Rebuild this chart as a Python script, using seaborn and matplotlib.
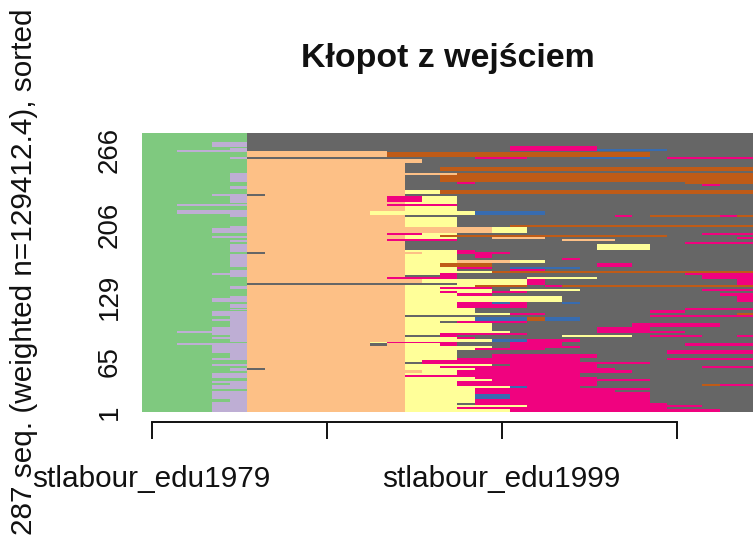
import numpy as np
import matplotlib
matplotlib.use("Agg")
import matplotlib.pyplot as plt
import seaborn as sns

state_codes = ["E", "P", "O", "Y", "B", "M", "R", "D"]
state_colors = ["#7FC97F", "#BEAED4", "#FDC086", "#FFFF99", "#386CB0", "#F0027F", "#BF5B17", "#666666"]

n_cols = 35
edu_cols = 6

# first 6 years: (weight, year where the second state starts), top to bottom
edu_bands = [
    (9, 6), (5, 4), (1, 6), (2, 5), (2, 2), (5, 6), (2, 5), (14, 6), (9, 5), (4, 6), (3, 5), (5, 6),
    (2, 4), (7, 5), (1, 6), (2, 2), (4, 6), (4, 2), (3, 5), (9, 6), (2, 5), (5, 4), (3, 6), (2, 4),
    (2, 6), (2, 5), (2, 6), (8, 5), (2, 6), (13, 5), (3, 6), (3, 5), (2, 4), (2, 5), (9, 6), (3, 5),
    (7, 6), (2, 5), (4, 4), (2, 6), (4, 5), (1, 6), (1, 5), (1, 6), (5, 4), (3, 5), (2, 4), (6, 5),
    (4, 4), (2, 2), (2, 4), (2, 5), (2, 4), (3, 5), (1, 6), (2, 2), (8, 4), (5, 5), (2, 4), (4, 6),
    (2, 4), (2, 6), (3, 5), (2, 6), (5, 4), (3, 6), (2, 4), (2, 5), (4, 4), (2, 6), (8, 4), (3, 5),
    (10, 4),
]

# later years: (weight, runs of state + length), top to bottom
career_upper = [
    (13, "D29"), (3, "D15 M5 D9"), (2, "D15 M5 B4 D5"), (1, "O8 D21"), (5, "O8 R15 D6"),
    (2, "D13 M3 D3 B4 D1 M5"), (4, "O10 D19"), (4, "O9 D20"), (4, "O9 D2 R18"), (2, "O9 D20"),
    (2, "O12 R17"), (7, "O9 D2 R18"), (2, "O9 D3 M1 D12 R4"), (2, "O9 D17 M1 D2"), (3, "O9 D20"),
    (1, "O9 D20"), (4, "O9 Y2 R18"), (2, "D1 O8 D20"), (6, "O8 M2 Y2 D17"), (2, "O9 Y3 D17"),
    (2, "O8 M4 D17"), (5, "O9 Y3 D17"), (4, "O7 Y6 B4 D12"), (2, "O9 D12 M1 D1 R4 M1 R1"),
    (8, "O9 Y3 D17"), (2, "O9 Y3 D3 R14"), (6, "O14 Y2 D13"), (2, "O8 M2 Y2 D14 M3"),
    (2, "O9 Y2 R13 D5"), (2, "O9 Y3 D2 O3 D11 M1"), (2, "O8 M4 D6 O3 D8"), (1, "O9 D20"),
    (2, "O9 D16 M4"), (6, "O9 D11 Y3 D6"), (2, "O9 Y3 M1 D16"), (2, "D1 O9 Y2 M3 D14"),
    (4, "O9 Y3 D1 M1 D15"), (2, "O9 Y3 D6 M1 D10"), (3, "O9 Y3 O3 Y2 D12"),
    (4, "O9 Y2 R3 D6 M2 D7"), (2, "O9 Y3 M2 D1 B4 D10"), (2, "O9 Y3 D3 M2 D12"), (2, "O9 Y5 R15"),
]
career_lower = [
    (2, "O9 Y2 M1 D13 M4"), (2, "O9 D2 M1 D14 M3"), (2, "O8 M4 D4 Y4 D6 M3"), (4, "O10 Y6 M1 D11 M1"),
    (2, "D12 Y4 M1 D11 M1"), (2, "O9 Y4 R3 D1 M1 R11"), (2, "O9 Y2 M3 D15"), (2, "O9 Y5 D1 Y4 D7 M3"),
    (2, "O9 Y2 M1 Y2 M2 D13"), (3, "O9 Y3 M2 D13 M2"), (6, "O9 Y9 D10 M1"),
    (2, "O9 Y3 M2 B1 M1 D2 B1 D10"), (4, "O9 Y3 M4 D13"), (2, "O9 Y4 D12 M4"), (3, "O9 Y4 D10 M2 D4"),
    (2, "O9 Y6 M2 D11 R1"), (2, "O9 D14 M6"), (4, "O9 Y4 B3 R1 B2 D10"), (2, "O9 Y2 D1 M4 D13"),
    (4, "O9 Y5 D8 M5 D2"), (4, "O9 Y5 D6 M3 D6"), (2, "O9 Y6 D5 M5 D4"), (2, "O9 Y2 M5 D13"),
    (2, "O9 D2 M1 D6 Y4 D1 M3 D2 M1"), (2, "O9 Y3 M1 D16"), (3, "O9 Y5 B2 M3 D10"),
    (1, "O7 Y1 M4 D3 M3 D11"), (3, "O7 D1 O1 Y2 M1 D3 M3 D7 M4"), (2, "O9 Y5 D1 M4 D10"),
    (2, "O9 Y4 M4 D12"), (4, "O9 Y3 D12 M5"), (4, "O9 Y3 D2 M6 D9"), (2, "O9 Y3 M7 D5 M5"),
    (2, "O9 Y1 M9 D10"), (2, "O9 D1 M13 D6"), (2, "O9 Y5 D1 M5 D9"), (2, "O9 Y2 M9 D6 M3"),
    (2, "D1 O8 Y4 M8 D8"), (3, "O10 Y2 M10 D7"), (2, "O9 Y3 M7 D10"), (2, "O9 M10 D10"),
    (2, "O9 Y4 M7 D9"), (2, "O9 Y5 M9 D6"), (3, "O9 Y3 M8 D9"), (2, "O9 Y3 M8 D6 R1 M2"),
    (2, "O9 Y6 B1 M3 D10"), (2, "O9 Y4 M10 D6"), (2, "O9 Y4 M8 D8"), (2, "O9 Y4 M10 D6"),
    (5, "O9 Y4 B2 M8 D6"), (4, "O9 Y4 M10 D6"), (2, "O9 Y3 D1 M11 D5"), (2, "O9 Y7 M10 D3"),
    (2, "O9 Y3 M12 D5"), (3, "O9 Y6 M12 D2"),
]

xtick_cols = [0, 10, 20, 30]
xtick_labels = ["stlabour_edu1979", "", "stlabour_edu1999", ""]
ytick_labels = ["1", "65", "129", "206", "266"]
ytick_weights = [0, 50, 115, 187, 262]


def expand_runs(runs):
    row = []
    for run in runs.split():
        row += [state_codes.index(run[0])] * int(run[1:])
    return row


left_rows = []
for weight, start in edu_bands:
    left_rows += [[0] * start + [1] * (edu_cols - start)] * weight

right_rows = []
for weight, runs in career_upper + career_lower:
    right_rows += [expand_runs(runs)] * weight

n_rows = min(len(left_rows), len(right_rows))
states = np.hstack([np.array(left_rows[:n_rows]), np.array(right_rows[:n_rows])])

sns.set_style("white")
plt.rcParams["font.family"] = ["Liberation Sans", "DejaVu Sans"]

fig = plt.figure(figsize=(7.53, 5.35), dpi=100)
ax = fig.add_axes([142 / 753, 1 - 412 / 535, 612.5 / 753, 279 / 535])

sns.heatmap(
    states,
    cmap=state_colors,
    vmin=0,
    vmax=len(state_codes) - 1,
    cbar=False,
    xticklabels=False,
    yticklabels=False,
    ax=ax,
)

ax.set_xticks(np.array(xtick_cols) + 0.55)
ax.set_xticklabels(xtick_labels)
ax.set_yticks(n_rows - np.array(ytick_weights))
ax.set_yticklabels(ytick_labels, rotation=90, va="center")
ax.tick_params(axis="x", length=12.5, width=1.4, pad=18, bottom=True, color="#111111",
               labelsize=21.4, labelcolor="#111111")
ax.tick_params(axis="y", length=0, pad=14, labelsize=20, labelcolor="#111111")

for name, spine in ax.spines.items():
    spine.set_visible(name == "bottom")
ax.spines["bottom"].set_position(("outward", 7.5))
ax.spines["bottom"].set_bounds(xtick_cols[0] + 0.55, xtick_cols[-1] + 0.55)
ax.spines["bottom"].set_linewidth(1.4)
ax.spines["bottom"].set_color("#111111")

fig.text(448 / 753, 1 - 59 / 535, "Kłopot z wejściem", fontsize=24.4, fontweight="bold",
         ha="center", va="center", color="#111111")
fig.text(24 / 753, 1 - 272 / 535, "287 seq. (weighted n=129412.4), sorted", fontsize=21.4,
         rotation=90, ha="center", va="center", color="#111111")

fig.savefig("out.png", dpi=100)
